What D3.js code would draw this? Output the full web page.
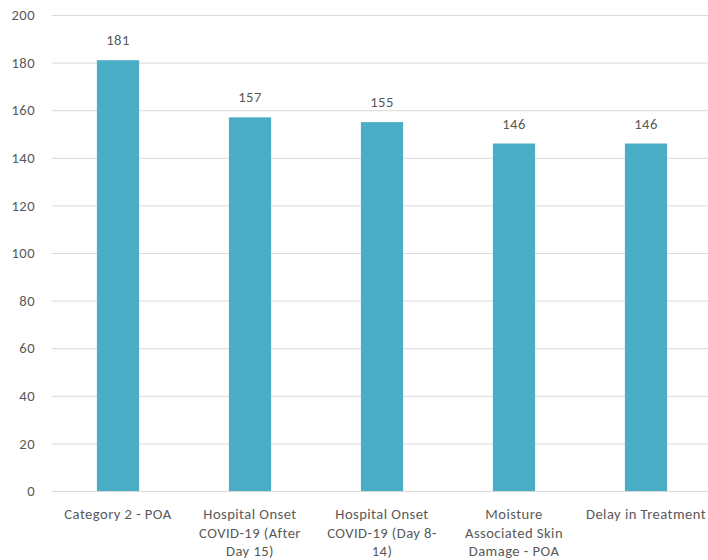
<!DOCTYPE html>
<html>
<head>
<meta charset="utf-8">
<script src="https://cdn.jsdelivr.net/npm/d3@7"></script>
<style>
  body { margin: 0; background: #fff; }
  svg text { font-family: Carlito, Calibri, "Liberation Sans", "Open Sans", sans-serif; fill: #595959; letter-spacing: 0.45px; }
</style>
</head>
<body>
<svg id="chart" width="708" height="560"></svg>
<script>
// Category labels, one array of wrapped lines per bar
const categories = [
  ["Category 2 - POA"],
  ["Hospital Onset", "COVID-19 (After", "Day 15)"],
  ["Hospital Onset", "COVID-19 (Day 8-", "14)"],
  ["Moisture", "Associated Skin", "Damage - POA"],
  ["Delay in Treatment"]
];
const values = [181, 157, 155, 146, 146];
const yTicks = [0, 20, 40, 60, 80, 100, 120, 140, 160, 180, 200];

const svg = d3.select("#chart");
const plotLeft = 52, plotRight = 712, plotTop = 15, plotBottom = 491;
const fontSize = 14.6;

const x = d3.scaleBand()
  .domain(d3.range(values.length))
  .range([plotLeft, plotRight])
  .paddingInner(0.68)
  .paddingOuter(0.34);

const y = d3.scaleLinear().domain([0, 200]).range([plotBottom, plotTop]);

// Horizontal gridlines and tick labels
const yAxis = d3.axisLeft(y).tickValues(yTicks).tickSize(-(plotRight - plotLeft)).tickPadding(17);
const ga = svg.append("g").attr("transform", `translate(${plotLeft},0)`).call(yAxis);
ga.select(".domain").remove();
ga.selectAll(".tick line").attr("stroke", "#d9d9d9").attr("stroke-width", 1);
ga.selectAll(".tick text").attr("font-size", fontSize).style("fill", "#595959");

// Bars
svg.append("g").selectAll("rect")
  .data(values)
  .join("rect")
  .attr("x", (d, i) => x(i))
  .attr("width", x.bandwidth())
  .attr("y", d => y(d))
  .attr("height", d => y(0) - y(d))
  .attr("fill", "#4bacc6");

// Value labels above bars
svg.append("g").selectAll("text")
  .data(values)
  .join("text")
  .attr("x", (d, i) => x(i) + x.bandwidth() / 2)
  .attr("y", d => y(d) - 15)
  .attr("text-anchor", "middle")
  .attr("font-size", fontSize)
  .text(d => d);

// Category labels below the baseline
const cat = svg.append("g").selectAll("text")
  .data(categories)
  .join("text")
  .attr("text-anchor", "middle")
  .attr("font-size", fontSize)
  .attr("transform", (d, i) => `translate(${x(i) + x.bandwidth() / 2},${plotBottom + 28})`);
cat.selectAll("tspan")
  .data(d => d)
  .join("tspan")
  .attr("x", 0)
  .attr("y", (d, j) => j * 18.5)
  .text(d => d);
</script>
</body>
</html>
